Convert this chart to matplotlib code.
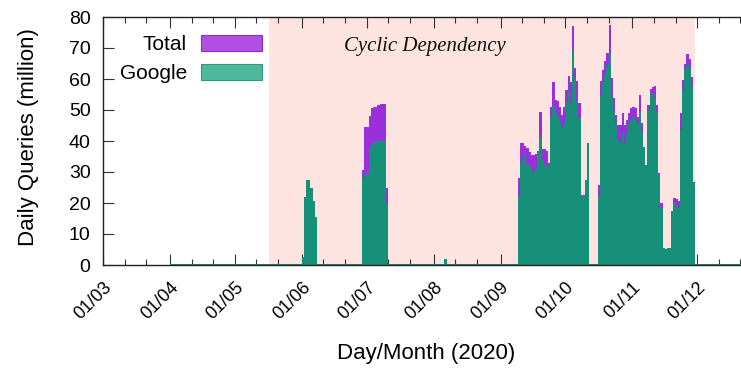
import numpy as np
import pandas as pd
import matplotlib
matplotlib.use("Agg")
import matplotlib.pyplot as plt
import matplotlib.dates as mdates
import matplotlib.transforms as mtransforms
from matplotlib.patches import Patch

# ---------------- data (million daily queries) ----------------
axis_start = "2020-03-01"
axis_end = "2020-12-31"
baseline_start = "2020-04-01"   # near-zero traffic recorded from here on
baseline_value = 0.4

shade_start = "2020-05-17"
shade_end = "2020-11-30"
shade_label = "Cyclic Dependency"

june_start = "2020-06-01"
june_total = [2.5, 22, 27.5, 27.5, 25, 20.5, 15.5]
june_google = [2.5, 22, 27.5, 27.5, 25, 20.5, 15.5]

july_start = "2020-06-29"
july_total = [30.5, 44.5, 44.5, 48, 50.5, 51, 51, 51.5, 52, 52, 52, 25]
july_google = [28, 29.5, 29.5, 38, 39.5, 39.5, 40, 40, 40, 40, 40, 20]

aug_start = "2020-08-06"
aug_total = [2.0]
aug_google = [2.0]

sep_start = "2020-09-09"
sep_total = [28, 39.3, 39.3, 38.3, 37.9, 36.3, 35.5, 35.5, 35.8, 36.9, 49.5,
             37.5, 37.5, 36.9, 32.8, 51.1, 58.9, 53.3, 52.8, 51.1, 48.4, 51.1,
             56.5, 61, 59, 77.2, 63.5, 59.2, 52.2, 22.6, 22.6, 27.4, 39.3]
sep_google = [22, 33, 34.5, 35.6, 32.4, 31.9, 30.4, 29.9, 31.4, 36.9, 41.4,
              34, 32.4, 31.9, 31.9, 47.4, 51.1, 49, 47.4, 46.4, 44.2, 45.9,
              52.2, 56, 52.2, 69.4, 60.3, 52.8, 47.4, 21.5, 22.6, 27.4, 39.3]

oct_start = "2020-10-16"
oct_total = [25.8, 59.2, 63, 65.7, 68.4, 77.5, 60.3, 53.8, 48.4, 45.2, 45.2,
             49, 45.2, 46.8, 49, 50.5, 51, 50.5, 47.9, 54.9, 45.7, 38.2, 32.3,
             51.7, 56.7, 57.4, 57.8, 51.7, 29.6, 20, 5.4, 5.2, 5.4, 5.4, 17.5,
             21.5, 21.3, 20.5, 49, 59.7, 65, 68, 66.6, 60.8, 26.9]
oct_google = [22, 54.4, 58.7, 61.3, 64.6, 68.4, 53.8, 49, 45.9, 40.4, 39.8,
              42.7, 39.3, 42.2, 45.9, 46.4, 47.9, 46.9, 45.4, 49, 42.7, 38, 32.3,
              50, 55.5, 55.5, 53.8, 49, 29, 18.5, 5.4, 5.2, 5.4, 5.4, 17.5,
              19.9, 19.4, 18.4, 43.7, 56.5, 62.9, 64.6, 63.5, 57.3, 25.8]

y_ticks = [0, 10, 20, 30, 40, 50, 60, 70, 80]
legend_labels = ["Total", "Google"]

# ---------------- build daily series ----------------
days = pd.date_range(axis_start, "2020-12-30", freq="D")
total = pd.Series(0.0, index=days)
google = pd.Series(0.0, index=days)
total[total.index >= baseline_start] = baseline_value
google[google.index >= baseline_start] = baseline_value
for start, tv, gv in [(june_start, june_total, june_google),
                      (july_start, july_total, july_google),
                      (aug_start, aug_total, aug_google),
                      (sep_start, sep_total, sep_google),
                      (oct_start, oct_total, oct_google)]:
    idx = pd.date_range(start, periods=len(tv), freq="D")
    total[idx] = tv
    google[idx] = gv

# ---------------- plot ----------------
plt.rcParams["font.family"] = ["Liberation Sans", "DejaVu Sans"]
W, H = 741, 368
fig = plt.figure(figsize=(W / 100, H / 100), dpi=100)
ax = fig.add_axes([103 / W, (H - 265) / H, 659 / W, 248 / H])

c_total = "#9a2fdc"
c_google = "#17907a"

ax.axvspan(pd.Timestamp(shade_start), pd.Timestamp(shade_end),
           color="#fde4e1", zorder=0, lw=0)
ax.bar(days, total.values, width=1.0, align="edge", color=c_total, lw=0, zorder=1)
ax.bar(days, google.values, width=1.0, align="edge", color=c_google, lw=0, zorder=2)

ax.set_xlim(pd.Timestamp(axis_start), pd.Timestamp(axis_end))
ax.set_ylim(0, 80)
ax.set_yticks(y_ticks)

ax.xaxis.set_major_locator(mdates.MonthLocator(bymonthday=1))
ax.xaxis.set_major_formatter(mdates.DateFormatter("%d/%m"))
ax.xaxis.set_minor_locator(mdates.DayLocator(bymonthday=[11, 21]))

ax.tick_params(which="major", direction="in", top=True, right=True,
               length=8, width=0.8, labelsize=14, color="#333333")
ax.tick_params(which="minor", direction="in", top=True, right=True,
               length=4, width=0.8, color="#333333")
ax.tick_params(axis="x", labelsize=13, pad=14)
ax.tick_params(axis="y", pad=9)

shift = mtransforms.ScaledTranslation(6 / 100, 0, fig.dpi_scale_trans)
for lbl in ax.get_xticklabels():
    lbl.set_rotation(45)
    lbl.set_ha("right")
    lbl.set_va("center")
    lbl.set_rotation_mode("anchor")
    lbl.set_transform(lbl.get_transform() + shift)

for sp in ax.spines.values():
    sp.set_linewidth(1.0)
    sp.set_color("#222222")

ax.set_ylabel("Daily Queries (million)", fontsize=16)
ax.yaxis.set_label_coords(39 / W, 1 - 137 / H, transform=fig.transFigure)
ax.set_xlabel("Day/Month (2020)", fontsize=16)
ax.xaxis.set_label_coords(426 / W, 1 - 343 / H, transform=fig.transFigure)

ax.text((425 - 103) / 659, (265 - 47) / 248, shade_label, transform=ax.transAxes,
        ha="center", va="center", fontsize=15, style="italic",
        family=["Liberation Serif", "DejaVu Serif"], color="#111111")

handles = [Patch(facecolor="#b04fe2", edgecolor="#8a2bd0", lw=0.8),
           Patch(facecolor="#4db89a", edgecolor="#2a9a7d", lw=0.8)]
ax.legend(handles, legend_labels, loc="upper right",
          bbox_to_anchor=(262 / W, 1 - 35 / H), bbox_transform=fig.transFigure,
          markerfirst=False, frameon=False, fontsize=15, borderpad=0,
          handlelength=2.95, handleheight=0.8, handletextpad=0.65,
          labelspacing=0.45, borderaxespad=0)

fig.savefig("out.png", dpi=100)
